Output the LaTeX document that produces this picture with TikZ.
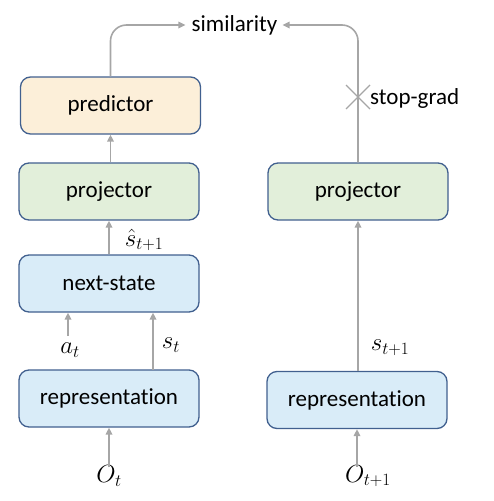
\documentclass[tikz,border=0pt]{standalone}
\usepackage{fontspec}
\setmainfont[Ligatures=NoCommon]{Carlito}
\DeclareMathSizes{25}{25}{19}{14}
\usetikzlibrary{arrows.meta,calc}
\definecolor{bordc}{HTML}{41608F}
\definecolor{orfill}{HTML}{FCEFD9}
\definecolor{grfill}{HTML}{E2EFDA}
\definecolor{blfill}{HTML}{D9ECF8}
\definecolor{arrc}{HTML}{A6A6A6}
\begin{document}
\begin{tikzpicture}[x=1pt,y=-1pt,
  box/.style={draw=bordc,line width=1.3pt,rounded corners=10pt,minimum width=180pt,minimum height=57pt,inner sep=0pt,font=\fontsize{23}{27}\selectfont},
  arr/.style={draw=arrc,line width=1.6pt,-{Triangle[length=7pt,width=6.5pt]}},
  lbl/.style={inner sep=0pt,font=\fontsize{23}{27}\selectfont},
  mlbl/.style={inner sep=0pt,font=\fontsize{25}{30}\selectfont}]
\useasboundingbox (0,0) rectangle (494,501);
\node[box,fill=orfill] (pred) at (110.5,105.5) {predictor};
\node[box,fill=grfill] (projL) at (109,191.5) {projector};
\node[box,fill=blfill] (next) at (109,283.5) {next-state};
\node[box,fill=blfill] (repL) at (109,398.5) {representation};
\node[box,fill=grfill] (projR) at (358,191.5) {projector};
\node[box,fill=blfill] (repR) at (357,400) {representation};
\node[lbl] (sim) at (234.5,25) {similarity};
\node[lbl,anchor=west] (sg) at (370,98) {stop-grad};
\node[mlbl] (shat) at (144,240) {$\hat{s}_{t+1}$};
\node[mlbl] (at) at (70,350) {$a_t$};
\node[mlbl] (st) at (171,345) {$s_t$};
\node[mlbl] (st1) at (390,348) {$s_{t+1}$};
\node[mlbl] (ot) at (109,476) {$O_t$};
\node[mlbl] (ot1) at (368,476) {$O_{t+1}$};
\coordinate (aft) at (68,336);
\coordinate (stb) at (153,370);
\coordinate (cross) at (358,97);
% connectors
\draw[arr,rounded corners=16pt] (pred.north) |- ([xshift=-6pt]sim.west);
\draw[arr,rounded corners=16pt] (projR.north) |- ([xshift=5pt]sim.east);
\draw[arr] (projL.north -| pred.north) -- (pred.south);
\draw[arr] (next.north) -- (projL.south);
\draw[arr] (aft) -- (aft |- next.south);
\draw[arr] (stb) -- (stb |- next.south);
\draw[arr] (repR.north -| projR.south) -- (projR.south);
\draw[arr] ([yshift=-2pt]ot.north) -- (repL.south);
\draw[arr] ([yshift=-2pt]ot1.north -| repR.south) -- (repR.south);
\draw[draw=arrc,line width=1.3pt] ($(cross)+(-12,-12)$) -- ($(cross)+(12,12)$);
\draw[draw=arrc,line width=1.3pt] ($(cross)+(-12,12)$) -- ($(cross)+(12,-12)$);
\end{tikzpicture}
\end{document}
